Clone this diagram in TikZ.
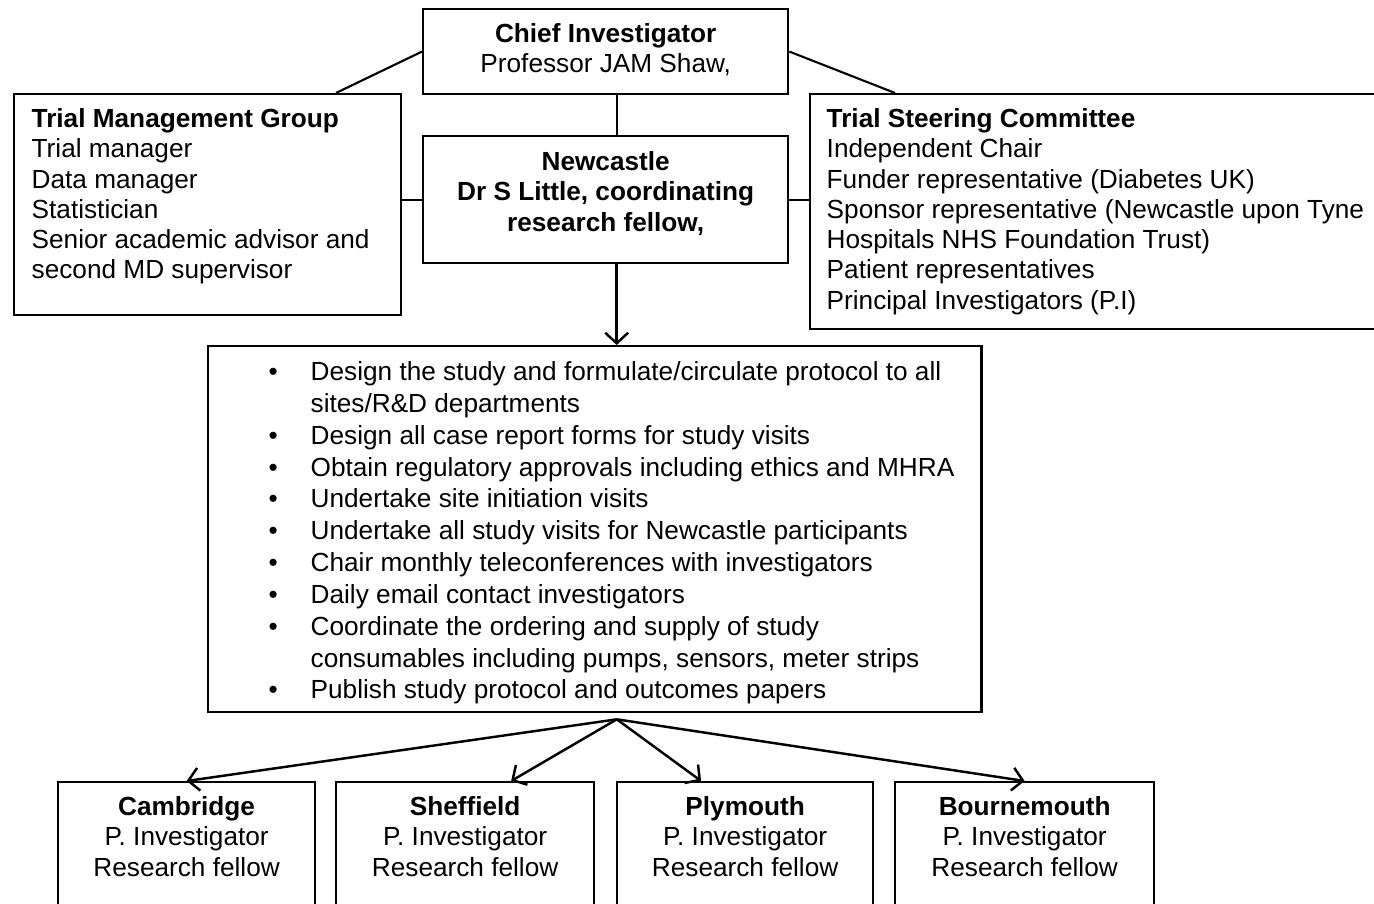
\documentclass[tikz,border=0pt]{standalone}
\usepackage{fontspec}
\setmainfont{Liberation Sans}
\usetikzlibrary{arrows.meta,calc}

\begin{document}
\begin{tikzpicture}[x=0.01cm,y=-0.01cm,
  box/.style={draw,line width=0.6pt,inner sep=0pt,anchor=north west},
  txt/.style={inner sep=0pt,font=\fontsize{7.45pt}{8.6pt}\selectfont},
  link/.style={line width=0.6pt},
  arr/.style={line width=0.7pt,-{Straight Barb[length=3pt,width=6.5pt]}}]
\useasboundingbox (0,0) rectangle (1374,904);
\clip (0,0) rectangle (1374,904);

% boxes
\node[box,minimum width=3.65cm,minimum height=0.85cm] (chief) at (422,8) {};
\node[box,minimum width=3.87cm,minimum height=2.21cm] (tmg) at (13,93) {};
\node[box,minimum width=3.65cm,minimum height=1.27cm] (newc) at (422,135) {};
\node[box,minimum width=5.80cm,minimum height=2.35cm] (tsc) at (809,93) {};
\node[box,minimum width=7.73cm,minimum height=3.66cm] (tasks) at (207,345) {};
\node[box,minimum width=2.57cm,minimum height=1.40cm] (cam) at (57,781) {};
\node[box,minimum width=2.58cm,minimum height=1.40cm] (she) at (335,781) {};
\node[box,minimum width=2.56cm,minimum height=1.40cm] (ply) at (616,781) {};
\node[box,minimum width=2.59cm,minimum height=1.40cm] (bou) at (894,781) {};

% texts
\node[txt,anchor=north,align=center] (chieftxt) at ($(chief.north)+(0,15)$)
  {\textbf{Chief Investigator}\\Professor JAM Shaw,};
\node[txt,anchor=north west,align=left] (tmgtxt) at ($(tmg.north west)+(18,15)$)
  {\textbf{Trial Management Group}\\Trial manager\\Data manager\\Statistician\\
   Senior academic advisor and\\second MD supervisor};
\node[txt,anchor=north,align=center,font=\fontsize{7.45pt}{8.6pt}\selectfont\bfseries] (newctxt) at ($(newc.north)+(0,16)$)
  {Newcastle\\Dr S Little, coordinating\\research fellow,};
\node[txt,anchor=north west,align=left] (tsctxt) at ($(tsc.north west)+(17,15)$)
  {\textbf{Trial Steering Committee}\\Independent Chair\\Funder representative (Diabetes UK)\\
   Sponsor representative (Newcastle upon Tyne\\Hospitals NHS Foundation Trust)\\
   Patient representatives\\Principal Investigators (P.I)};
\newcommand{\itm}{\llap{\textbullet\hspace{0.33cm}}}
\node[txt,anchor=north west,align=left,font=\fontsize{7.45pt}{9.05pt}\selectfont] (taskstxt) at ($(tasks.north west)+(103,16)$)
  {\itm Design the study and formulate/circulate protocol to all\\
   sites/R\&D departments\\
   \itm Design all case report forms for study visits\\
   \itm Obtain regulatory approvals including ethics and MHRA\\
   \itm Undertake site initiation visits\\
   \itm Undertake all study visits for Newcastle participants\\
   \itm Chair monthly teleconferences with investigators\\
   \itm Daily email contact investigators\\
   \itm Coordinate the ordering and supply of study\\
   consumables including pumps, sensors, meter strips\\
   \itm Publish study protocol and outcomes papers};
\node[txt,anchor=north,align=center] (camtxt) at ($(cam.north)+(0,15)$)
  {\textbf{Cambridge}\\P. Investigator\\Research fellow};
\node[txt,anchor=north,align=center] (shetxt) at ($(she.north)+(0,15)$)
  {\textbf{Sheffield}\\P. Investigator\\Research fellow};
\node[txt,anchor=north,align=center] (plytxt) at ($(ply.north)+(0,15)$)
  {\textbf{Plymouth}\\P. Investigator\\Research fellow};
\node[txt,anchor=north,align=center] (boutxt) at ($(bou.north)+(0,15)$)
  {\textbf{Bournemouth}\\P. Investigator\\Research fellow};

% links
\draw[link] (chief.west) -- ($(tmg.north west)+(323,0)$);
\draw[link] (chief.east) -- ($(tsc.north west)+(86,0)$);
\draw[link] ($(chief.south)+(11,0)$) coordinate (c1) -- (c1 |- newc.north);
\draw[link] (newc.west -| tmg.east) -- (newc.west);
\draw[link] (newc.east) -- (newc.east -| tsc.west);
\draw[arr] ($(newc.south)+(11,0)$) coordinate (c2) -- (c2 |- tasks.north);

% fan to sites
\coordinate (fan) at ($(tasks.south)+(22,6)$);
\draw[arr] (fan) -- (cam.north);
\draw[arr] (fan) -- ($(she.north)+(46,0)$);
\draw[arr] (fan) -- ($(ply.north)+(-44,0)$);
\draw[arr] (fan) -- (bou.north);
\end{tikzpicture}
\end{document}
